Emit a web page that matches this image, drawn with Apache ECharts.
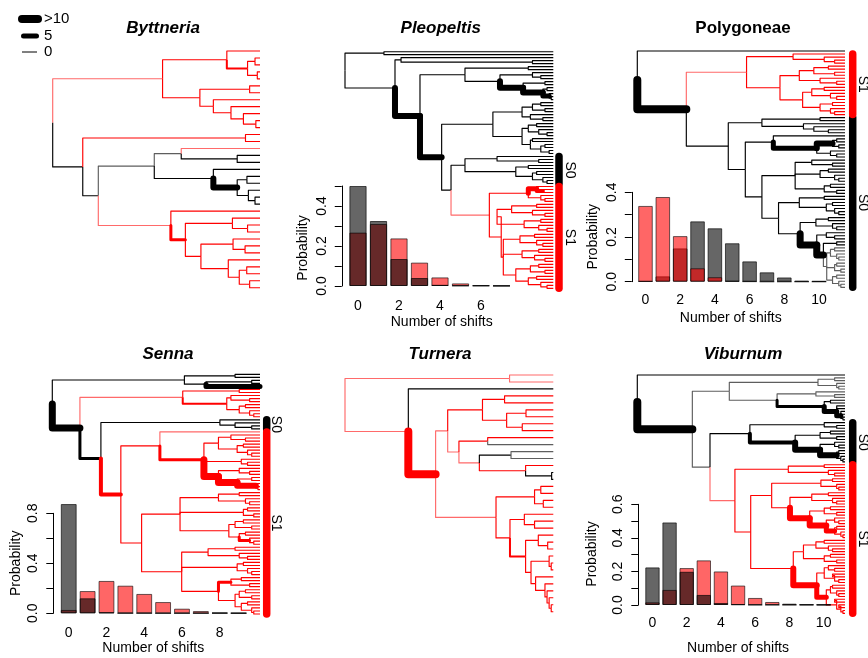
<!DOCTYPE html>
<html><head><meta charset="utf-8">
<script src="https://cdn.jsdelivr.net/npm/echarts@6/dist/echarts.min.js"></script>
<style>html,body{margin:0;padding:0;background:#fff}#c{width:868px;height:658px}</style>
</head><body><div id="c"></div><script>
// ================= DATA =================
// Posterior distribution of the number of shifts (inset bar charts)
const pleopeltisShifts = ['0','1','2','3','4','5','6','7'];
const pleopeltisS0 = [0.500, 0.325, 0.135, 0.040, 0.006, 0.002, 0.002, 0.001];
const pleopeltisS1 = [0.267, 0.310, 0.238, 0.117, 0.043, 0.013, 0.004, 0.002];

const polygoneaeShifts = ['0','1','2','3','4','5','6','7','8','9','10'];
const polygoneaeS0 = [0.002, 0.024, 0.149, 0.270, 0.239, 0.172, 0.091, 0.042, 0.019, 0.004, 0.003];
const polygoneaeS1 = [0.339, 0.379, 0.204, 0.060, 0.020, 0.003, 0.001, 0.000, 0.000, 0.000, 0.000];

const sennaShifts = ['0','1','2','3','4','5','6','7','8','9'];
const sennaS0 = [0.874, 0.120, 0.008, 0.001, 0.001, 0.000, 0.000, 0.000, 0.003, 0.002];
const sennaS1 = [0.027, 0.178, 0.259, 0.221, 0.155, 0.090, 0.037, 0.018, 0.004, 0.002];

const viburnumShifts = ['0','1','2','3','4','5','6','7','8','9','10'];
const viburnumS0 = [0.224, 0.492, 0.198, 0.060, 0.012, 0.004, 0.001, 0.001, 0.001, 0.002, 0.002];
const viburnumS1 = [0.016, 0.090, 0.220, 0.266, 0.200, 0.116, 0.042, 0.018, 0.008, 0.003, 0.002];

// Phylogenies: nested groups, number = node depth (root 0, tips 100),
// letter = state colour of branch (k black, g grey, r red, p pale red), digit after letter = branch weight,
// #tag = clade labelled on the right.
const byttneriaTree = "(((,((,)97.6,(,)98.7)94r2)84r,((,)95,(,(,(,(,)98)92)86)77.5)71r)53p,((,)93r,(((p,(,)89k)62g,(k,((,)93.7,(,(,)97.6)94.4)89k6)77.5k)49g,(r,((,(,)94)86.7,((,(,)92.8)87,(,((,)93.6,(,)95)90)84.7)71.5)64r3)57p)22k)14.5k)0";

const pleoFan = "((,)88,((,(,)94)90,((,)96,((,)97,(,(,)99)98k5)95k6)85.5k6)74.4)57.6";
const pleoMid = "((((,)94,(,)96)90,(,(,)95)89)85,(((,)92,(,(,)97)93)88,((,)90,((,)96,(,)98)94)89)85)71";
const pleoCladeS0 = "((,(,)93)73,((,)88,((,)92,(,(,)97)95)90)82)57.6k#S0";
const pleoCladeS1 = "(((,(,)95r4)92r5,(,(,)96)94)88r,((((,)92,(,(,)96)90)80,((,)94,(,(,)97)93)86)73,(((,)91,(,(,)95)92)84,((,)93,(,(,)96)91)85,(((,)93,(,)96)89,((,)92,(,(,)97)94)88)82)76)75r)69.3p#S1";
const pleopeltisTree = "((,)18.7,((,(,)90)26.9,(" + pleoFan + ",(" + pleoMid + ",(" + pleoCladeS0 + "," + pleoCladeS1 + ")50.9)46.4k6)36k6)24)0";

const polyCladeS1 = "((,(,(,)95)90)75r,((((,)92,(,)95)85,(,(,)96)88)78,(((,)90,(,(,)96)93)84,((,)94,(,(,)95)93)88)79.6)68.7r)52.6p#S1";
const polyA = "(,(((,)96,(,)97)94k6,(,(,)96)93)86.4k5)65.5";
const polyB = "((,(,)94)84,((,)92,(,(,)97)95)88,((,)93,(,)96)90)76";
const polyC = "((,)90,((,)94,(,(,)97)95)91)78";
const polyFan = "(((,)95,(,(,)97)96)93,((,)96,(,)98)95,((,)96,(,(,)98)97)94)91.2g";
const polyD = "(((,)92,(,(,)96)94)86,((,(,)95)91,((,)96," + polyFan + ")89.6k7)86.4k7)78.4";
const polyCladeS0 = "(((,)88,(,(,(,)92)85)80)60,(" + polyA + ",(" + polyB + ",(" + polyC + "," + polyD + ")68)60)52)43.8k#S0";
const polygoneaeTree = "(,(" + polyCladeS1 + "," + polyCladeS0 + ")23.6k8)0";

const sennaTop = "((,)88,((,)96,k5)74)63.6";
const sennaRed = "((,)90r,((,(,)95)86,((,)93,(,(,)97)95)90)84r2)62.8p";
const sennaCladeS0 = "(,(,(,)96)88)80.7k#S0";
const sennaA = "(p,(((,(,)93)86,((,)92,(,(,)96)94)89)80,(,(,)94)91,((,(,)95)90,((,)96,(,(,)99)98r6)89r7)80r7)73r3)51.8r";
const sennaB = "(((,)90,(,(,)95)93)80,((,)94,(,)97)92,(((,)92,(,)96)88,((,)93,(,(,)97)95r3)90)85)61.5";
const sennaC = "(((,)88,(,(,)94)90)75,((,)92,(,(,)96)94)89,(((,)91,(,)95)86r3,(((,)93,(,)96)90,((,)94,(,(,)97)96)91)88)80)62.3";
const sennaTree = "(" + sennaTop + ",(" + sennaRed + ",(" + sennaCladeS0 + ",(" + sennaA + ",(" + sennaB + "," + sennaC + ")43r)33r4#S1)23.4k3)13.3k7)0";

const turnA = "((,)76.6,((,)86.9,(,)85.1)77.6)66r";
const turnB = "((,g)68.5r,((g,g)79.7k,(,(k,k)99.2k)86.7r)64.5p)54.7p";
const turnC = "((,)94,(,)95.2)91r";
const turnD = "((,(,)91)86.1,((,(,)97.3)92.8,((,(,)99)98,(,(,(,(,(,)99)98)97)96)91.5)89.3)86.7r2)79.2r";
const turneraTree = "((,)79p,(k,((" + turnA + "," + turnB + ")49.3p,(" + turnC + "," + turnD + ")72.5p)43.5r8)30.4p)0";

const vibTop = "(((,)95,(,(,)97)96)87,((,(,)95)86,((,)93,((,)96,((,)98,(,)99)98k5)96k5)90k3)67.3)44.3g";
const vibCladeS0 = "((,(,)96)90,(((,)93,(,)96)88,((,(,)97)95,((,)97,(,(,)99)98)96k6)88k6)76k4)54.2k#S0";
const vibA = "((,)90,(,(,)95)92)72.7r";
const vibB = "((,)94,(,(,)97)96)88.4r";
const vibC = "(((,)92,(,(,)96)94)84,(((,)93,(,)96)90,((,(,)97)95,((,)96,(,(,)99)98)95r5)91r6)83r6)73.5r";
const vibD = "((((,)90,(,(,)94)92)86,((,)93,(,)96)90)80,(((,(,)95)92,((,)94,(,)97)95)90,(((,)94,(,(,)97)96)93,((,)95,((,)97,(,)99)98)96)91r5)86.4r6)75.1r";
const vibCladeS1 = "(" + vibA + ",((" + vibB + "," + vibC + ")64.7r," + vibD + ")54.6r)47p#S1";
const viburnumTree = "(,(" + vibTop + ",(" + vibCladeS0 + "," + vibCladeS1 + ")35g)26.5k8)0";

const cladeTags = ['S0', 'S1'];
const cladeStates = ['k', 'r'];

// ================= HELPERS =================
const STATE_INDEX = {k:0, g:1, r:2, p:3};
const STATE_COLORS = ['#000000', '#5e5e5e', '#ff0000', '#ff6a6a'];
const FONT = '"Liberation Sans", Arial, Helvetica, sans-serif';

function parseTree(s){
  let i = 0;
  function node(){
    const n = {c:[]};
    if (s[i] === '('){
      i++; n.c.push(node());
      while (s[i] === ','){ i++; n.c.push(node()); }
      if (s[i] !== ')') throw new Error('parse error at ' + i);
      i++;
    }
    let m = /^[\d.]*/.exec(s.slice(i))[0]; i += m.length; if (m) n.d = +m;
    const st = /^([rkpg])?((?:\d+\.?\d*)?)/.exec(s.slice(i)); i += st[0].length;
    if (st[1]) n.col = st[1]; if (st[2]) n.w = +st[2];
    const tg = /^#(\w+)/.exec(s.slice(i)); if (tg){ n.tag = tg[1]; i += tg[0].length; }
    return n;
  }
  const r = node();
  if (i !== s.length) throw new Error('trailing text at ' + i);
  return r;
}
function layoutTree(str){
  const root = parseTree(str);
  let tip = 0; const segs = []; const tags = {};
  (function walk(n, col){
    n.col = n.col || col;
    if (!n.c.length){ n.y = tip++; n.d = 100; n.t0 = n.t1 = n.y; }
    else {
      n.c.forEach(ch => walk(ch, n.col));
      n.y = (n.c[0].y + n.c[n.c.length-1].y) / 2;
      n.t0 = n.c[0].t0; n.t1 = n.c[n.c.length-1].t1;
      if (n.d === undefined) n.d = 0;
    }
    if (n.tag) tags[n.tag] = [n.t0, n.t1];
  })(root, 'k');
  (function emit(n){
    n.c.forEach(ch => {
      segs.push([n.d, n.y, n.d, ch.y, ch.d, ch.y, STATE_INDEX[ch.col], ch.w ? ch.w : 1.15]);
      emit(ch);
    });
  })(root);
  segs.sort((a, b) => a[7] - b[7]);
  return {segs, n: tip, tags};
}

// ================= LAYOUT =================
const trees = [
  {name:'Byttneria',  str:byttneriaTree,  frame:{left:52.7, top:51, width:207.3, height:236.7}, title:[163,28], italic:true},
  {name:'Pleopeltis', str:pleopeltisTree, frame:{left:345, top:51.7, width:208.3, height:236.6}, title:[440.7,28], italic:true, clade:{off:5.7, loff:11}},
  {name:'Polygoneae', str:polygoneaeTree, frame:{left:637.3, top:51, width:207.7, height:236.3}, title:[743,28], italic:false, clade:{off:7.7, loff:10.3}},
  {name:'Senna',      str:sennaTree,      frame:{left:52.3, top:374.3, width:207.7, height:239.7}, title:[168,354], italic:true, clade:{off:6.7, loff:9.6}},
  {name:'Turnera',    str:turneraTree,    frame:{left:345, top:375, width:208.3, height:236.7}, title:[440,354], italic:true},
  {name:'Viburnum',   str:viburnumTree,   frame:{left:637.3, top:375, width:207.7, height:238.3}, title:[743,354], italic:true, clade:{off:7.7, loff:10}}
];
const bars = [
  {name:'Pleopeltis', cats:pleopeltisShifts, s0:pleopeltisS0, s1:pleopeltisS1, max:0.5, step:0.1, lab:0.2,
   grid:{left:347.75, top:186, width:164, height:100}, offset:6, xMargin:13, redOnTop:false, xl:[441.7,321.7], yl:[303.3,248]},
  {name:'Polygoneae', cats:polygoneaeShifts, s0:polygoneaeS0, s1:polygoneaeS1, max:0.4, step:0.1, lab:0.2,
   grid:{left:636.8, top:192.3, width:190.9, height:89.4}, offset:5, xMargin:11.5, redOnTop:true, xl:[730.8,318.3], yl:[592.7,236.7]},
  {name:'Senna', cats:sennaShifts, s0:sennaS0, s1:sennaS1, max:0.8, step:0.2, lab:0.4,
   grid:{left:59.3, top:513.3, width:188.75, height:100}, offset:6, xMargin:13, redOnTop:false, xl:[153.3,648.3], yl:[16,563.3]},
  {name:'Viburnum', cats:viburnumShifts, s0:viburnumS0, s1:viburnumS1, max:0.6, step:0.1, lab:0.2,
   grid:{left:643.9, top:504.3, width:188.3, height:100.7}, offset:5.6, xMargin:11.5, redOnTop:false, xl:[738,648.3], yl:[591.7,554]}
];

const grids = [], xAxes = [], yAxes = [], series = [], graphics = [];

function txt(x, y, text, font, align, rot){
  return {type:'text', x:x, y:y, rotation:rot||0, silent:true,
    style:{text:text, font:font, fill:'#000', textAlign:align||'center', align:align||'center',
           textVerticalAlign:'middle', verticalAlign:'middle'}};
}

trees.forEach((t, k) => {
  const L = layoutTree(t.str);
  grids.push(Object.assign({containLabel:false}, t.frame));
  xAxes.push({type:'value', gridIndex:k, min:0, max:100, show:false});
  yAxes.push({type:'value', gridIndex:k, min:0, max:L.n - 1, inverse:true, show:false});
  series.push({
    type:'custom', name:t.name + ' tree', xAxisIndex:k, yAxisIndex:k, clip:false, silent:true,
    data:L.segs,
    renderItem:function(params, api){
      const p1 = api.coord([api.value(0), api.value(1)]);
      const p2 = api.coord([api.value(2), api.value(3)]);
      const p3 = api.coord([api.value(4), api.value(5)]);
      const w = api.value(7);
      return {type:'polyline', shape:{points:[p1, p2, p3]},
        style:{stroke:STATE_COLORS[api.value(6)], lineWidth:w, fill:'none',
               lineCap: w > 2 ? 'round' : 'butt', lineJoin:'round'}};
    }
  });
  if (t.clade){
    const cd = [], names = [];
    cladeTags.forEach((tag, j) => { if (L.tags[tag]){ cd.push([L.tags[tag][0], L.tags[tag][1], STATE_INDEX[cladeStates[j]]]); names.push(tag); } });
    const off = t.clade.off, loff = t.clade.loff;
    series.push({
      type:'custom', name:t.name + ' clades', xAxisIndex:k, yAxisIndex:k, clip:false, silent:true,
      data:cd,
      renderItem:function(params, api){
        const a = api.coord([100, api.value(0)]), b = api.coord([100, api.value(1)]);
        const x = a[0] + off;
        return {type:'group', children:[
          {type:'line', shape:{x1:x, y1:a[1], x2:x, y2:b[1]},
           style:{stroke:STATE_COLORS[api.value(2)], lineWidth:7.5, lineCap:'round'}},
          {type:'text', x:x + loff, y:(a[1] + b[1]) / 2, rotation:-Math.PI/2,
           style:{text:names[params.dataIndex], font:'14px ' + FONT, fill:'#000',
                  textAlign:'center', align:'center', textVerticalAlign:'middle', verticalAlign:'middle'}}
        ]};
      }
    });
  }
  graphics.push(txt(t.title[0], t.title[1], t.name, (t.italic ? 'italic ' : '') + 'bold 17px ' + FONT));
});

bars.forEach((b, j) => {
  const gi = trees.length + j;
  grids.push(Object.assign({containLabel:false}, b.grid));
  xAxes.push({type:'category', gridIndex:gi, data:b.cats, boundaryGap:true,
    axisLine:{show:false}, axisTick:{show:false},
    axisLabel:{interval:1, margin:b.xMargin, fontSize:14, color:'#000', fontFamily:FONT}});
  const lab = b.lab, step = b.step;
  yAxes.push({type:'value', gridIndex:gi, min:0, max:b.max, interval:step, offset:b.offset,
    axisLine:{show:true, lineStyle:{color:'#000', width:1}},
    axisTick:{show:true, length:7, lineStyle:{color:'#000', width:1}},
    splitLine:{show:false},
    axisLabel:{rotate:90, margin:13, fontSize:14, color:'#000', fontFamily:FONT,
      formatter:function(v){ return Math.abs(Math.round(v / lab) * lab - v) < 1e-6 ? v.toFixed(1) : ''; }}});
  const s0 = {type:'bar', name:b.name + ' S0', xAxisIndex:gi, yAxisIndex:gi, data:b.s0, barWidth:'84%', barGap:'-100%',
    clip:false, silent:true, itemStyle:{color:'rgba(0,0,0,0.6)', borderColor:'rgba(0,0,0,0.65)', borderWidth:1}};
  const s1 = {type:'bar', name:b.name + ' S1', xAxisIndex:gi, yAxisIndex:gi, data:b.s1, barWidth:'84%', barGap:'-100%',
    clip:false, silent:true, itemStyle:{color:'rgba(255,0,0,0.6)', borderColor:'rgba(0,0,0,0.6)', borderWidth:1}};
  if (b.redOnTop) series.push(s0, s1); else series.push(s1, s0);
  graphics.push(txt(b.xl[0], b.xl[1], 'Number of shifts', '14px ' + FONT));
  graphics.push(txt(b.yl[0], b.yl[1], 'Probability', '14px ' + FONT, 'center', Math.PI/2));
});

// branch-weight legend
graphics.push({type:'line', silent:true, shape:{x1:22, y1:19, x2:38, y2:19}, style:{stroke:'#000', lineWidth:8, lineCap:'round'}});
graphics.push({type:'line', silent:true, shape:{x1:23.5, y1:36, x2:36.5, y2:36}, style:{stroke:'#000', lineWidth:5, lineCap:'round'}});
graphics.push({type:'line', silent:true, shape:{x1:22, y1:52, x2:37, y2:52}, style:{stroke:'#000', lineWidth:1}});
graphics.push(txt(44, 19, '>10', '15px ' + FONT, 'left'));
graphics.push(txt(44, 36, '5', '15px ' + FONT, 'left'));
graphics.push(txt(44, 52, '0', '15px ' + FONT, 'left'));

const chart = echarts.init(document.getElementById('c'), null, {width:868, height:658});
chart.setOption({
  animation:false,
  backgroundColor:'#ffffff',
  textStyle:{fontFamily:FONT},
  grid:grids, xAxis:xAxes, yAxis:yAxes, series:series,
  graphic:{elements:graphics}
});
</script></body></html>
